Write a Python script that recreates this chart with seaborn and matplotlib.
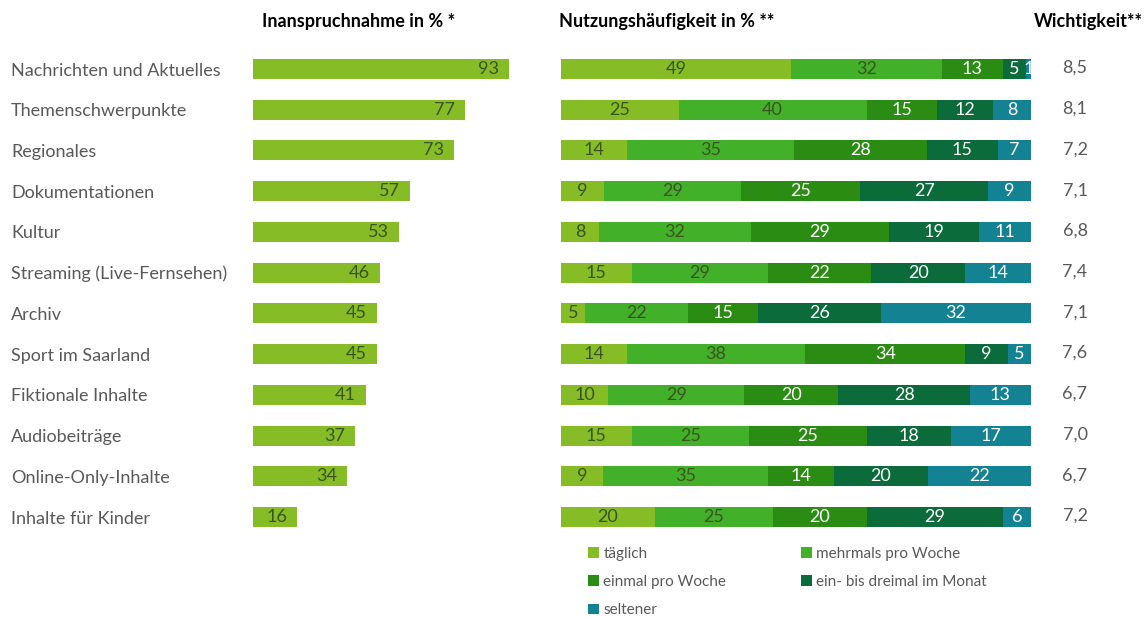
import numpy as np
import pandas as pd
import matplotlib
matplotlib.use("Agg")
import matplotlib.pyplot as plt
from matplotlib.patches import Patch
import seaborn as sns

categories = [
    "Nachrichten und Aktuelles", "Themenschwerpunkte", "Regionales",
    "Dokumentationen", "Kultur", "Streaming (Live-Fernsehen)", "Archiv",
    "Sport im Saarland", "Fiktionale Inhalte", "Audiobeiträge",
    "Online-Only-Inhalte", "Inhalte für Kinder",
]
inanspruchnahme = [93, 77, 73, 57, 53, 46, 45, 45, 41, 37, 34, 16]

freq_labels = ["täglich", "mehrmals pro Woche", "einmal pro Woche",
               "ein- bis dreimal im Monat", "seltener"]
taeglich = [49, 25, 14, 9, 8, 15, 5, 14, 10, 15, 9, 20]
mehrmals = [32, 40, 35, 29, 32, 29, 22, 38, 29, 25, 35, 25]
einmal = [13, 15, 28, 25, 29, 22, 15, 34, 20, 25, 14, 20]
monatlich = [5, 12, 15, 27, 19, 20, 26, 9, 28, 18, 20, 29]
seltener = [1, 8, 7, 9, 11, 14, 32, 5, 13, 17, 22, 6]

wichtigkeit = ["8,5", "8,1", "7,2", "7,1", "6,8", "7,4", "7,1", "7,6",
               "6,7", "7,0", "6,7", "7,2"]

sns.set_theme(style="white")
plt.rcParams["font.family"] = ["Lato", "DejaVu Sans"]

W, H = 1148, 617
fig = plt.figure(figsize=(W / 100, H / 100), dpi=100)

grey = "#595959"
dark_txt = "#3b5323"
colors = ["#86bc25", "#43b02a", "#2a8c12", "#0b6b3a", "#138393"]
fs = 13

row0, row_step = 69, 40.73
top_px = row0 - row_step / 2
bot_px = row0 + row_step * 11.5
ax_bottom = (H - bot_px) / H
ax_height = (bot_px - top_px) / H

# left: share of users per content type
axl = fig.add_axes([253 / W, ax_bottom, 275 / W, ax_height])
dfl = pd.DataFrame({"Kategorie": categories, "Wert": inanspruchnahme})
sns.barplot(data=dfl, x="Wert", y="Kategorie", orient="h", color=colors[0],
            saturation=1, width=0.49, linewidth=0, ax=axl)
axl.set_xlim(0, 100)
axl.set_ylim(11.5, -0.5)
for i, v in enumerate(inanspruchnahme):
    axl.annotate(str(v), (v, i), xytext=(-7, 0), textcoords="offset points",
                 ha="right", va="center", fontsize=fs, color=dark_txt)
axl.set_xlabel("")
axl.set_ylabel("")
axl.set_xticks([])
axl.tick_params(axis="y", length=0, pad=0)
axl.set_yticks(range(len(categories)))
axl.set_yticklabels(categories, fontsize=fs, color=grey, ha="left")
for lab in axl.get_yticklabels():
    lab.set_x(-242 / 275)
sns.despine(ax=axl, left=True, bottom=True)

# right: 100 % stacked usage frequency
axr = fig.add_axes([561 / W, ax_bottom, 470 / W, ax_height])
series = np.array([taeglich, mehrmals, einmal, monatlich, seltener], dtype=float)
totals = series.sum(axis=0)
shares = series / totals * 100
left = np.zeros(len(categories))
ypos = np.arange(len(categories))
for k in range(len(freq_labels)):
    axr.barh(ypos, shares[k], left=left, height=0.49, color=colors[k],
             linewidth=0, label=freq_labels[k])
    tc = dark_txt if k < 2 else "white"
    for i in range(len(categories)):
        axr.text(left[i] + shares[k][i] / 2, i, f"{int(series[k][i])}",
                 ha="center", va="center", fontsize=fs, color=tc)
    left += shares[k]
axr.set_xlim(0, 100)
axr.set_ylim(11.5, -0.5)
axr.set_xticks([])
axr.set_yticks([])
sns.despine(ax=axr, left=True, bottom=True)

# importance ratings
for i, w in enumerate(wichtigkeit):
    fig.text(1075 / W, 1 - (row0 + row_step * i - 1) / H, w, ha="center",
             va="center", fontsize=fs, color=grey)

# column headers
hy = 1 - 22 / H
fig.text(262 / W, hy, "Inanspruchnahme in % *", ha="left", va="center",
         fontsize=13, fontweight="bold", color="black")
fig.text(559 / W, hy, "Nutzungshäufigkeit in % **", ha="left", va="center",
         fontsize=13, fontweight="bold", color="black")
fig.text(1034 / W, hy, "Wichtigkeit**", ha="left", va="center",
         fontsize=13, fontweight="bold", color="black")

# legend, filled row by row
order = [0, 2, 4, 1, 3]
handles = [Patch(facecolor=colors[k], edgecolor="none") for k in order]
labels = [freq_labels[k] for k in order]
leg = fig.legend(handles, labels, ncol=2, loc="upper left",
                 bbox_to_anchor=(582 / W, 1 - 541 / H), frameon=False,
                 fontsize=11, handlelength=0.7, handleheight=0.7,
                 handletextpad=0.3, columnspacing=4.9, labelspacing=0.92,
                 borderaxespad=0)
for t in leg.get_texts():
    t.set_color(grey)

fig.savefig("out.png", dpi=100, facecolor="white")
